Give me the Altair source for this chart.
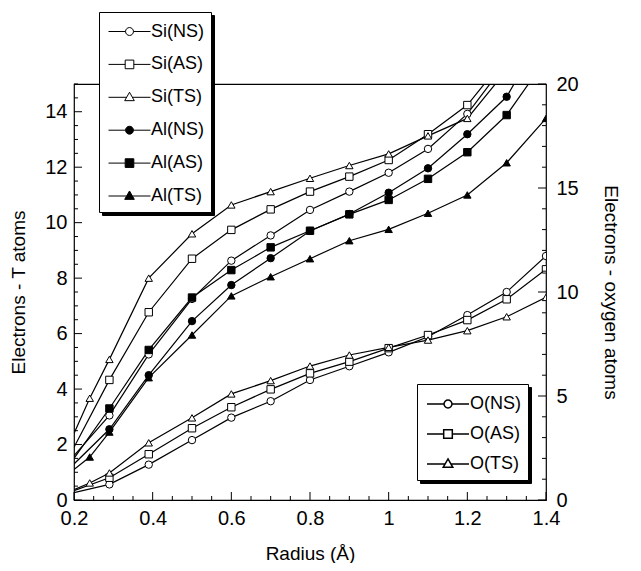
import altair as alt
import pandas as pd

# ---------------- data ----------------
r_std = [0.2, 0.29, 0.39, 0.5, 0.6, 0.7, 0.8, 0.9, 1.0, 1.1, 1.2, 1.3, 1.4]
r_ts = [0.2, 0.24, 0.29, 0.39, 0.5, 0.6, 0.7, 0.8, 0.9, 1.0, 1.1, 1.2, 1.3, 1.4]

# T atoms (left axis)
si_ns = [1.6, 3.05, 5.25, 7.25, 8.63, 9.54, 10.46, 11.12, 11.8, 12.66, 13.92, 15.8, 18.0]
si_as = [1.9, 4.33, 6.77, 8.7, 9.74, 10.48, 11.12, 11.66, 12.26, 13.19, 14.24, 16.0, 18.0]
si_ts = [2.4, 3.67, 5.07, 8.0, 9.6, 10.64, 11.12, 11.6, 12.06, 12.48, 13.13, 13.76, 15.5, 17.5]
al_ns = [1.3, 2.55, 4.5, 6.45, 7.75, 8.72, 9.7, 10.31, 11.08, 11.96, 13.19, 14.54, 17.0]
al_as = [1.5, 3.3, 5.41, 7.3, 8.29, 9.11, 9.71, 10.3, 10.82, 11.58, 12.54, 13.88, 15.9]
al_ts = [1.1, 1.55, 2.45, 4.41, 5.95, 7.36, 8.05, 8.7, 9.35, 9.76, 10.34, 11.0, 12.16, 13.76]

# oxygen atoms (right axis)
o_ns = [0.35, 0.75, 1.7, 2.88, 3.96, 4.75, 5.77, 6.43, 7.1, 7.85, 8.89, 10.0, 11.73]
o_as = [0.45, 1.07, 2.2, 3.45, 4.46, 5.32, 6.09, 6.65, 7.3, 7.93, 8.65, 9.65, 11.09]
o_ts = [0.5, 0.82, 1.3, 2.75, 3.95, 5.1, 5.74, 6.44, 6.97, 7.34, 7.69, 8.14, 8.81, 9.74]

t_names = ["Si(NS)", "Si(AS)", "Si(TS)", "Al(NS)", "Al(AS)", "Al(TS)"]
o_names = ["O(NS)", "O(AS)", "O(TS)"]

x_major = [0.2, 0.4, 0.6, 0.8, 1.0, 1.2, 1.4]
yl_major = [0, 2, 4, 6, 8, 10, 12, 14]
yr_major = [0, 5, 10, 15, 20]
x_minor = [round(0.2 + 0.05 * i, 2) for i in range(25) if i % 4]
yl_minor = [k * 0.5 for k in range(31) if k % 4]
yr_minor = [k for k in range(21) if k % 5]

# ---------------- table ----------------
rows = []
def add(name, grp, xs, ys):
    for x, y in zip(xs, ys):
        rows.append({"r": x, "v": y, "series": name, "grp": grp, "kind": "data"})

add("Si(NS)", "T", r_std, si_ns)
add("Si(AS)", "T", r_std, si_as)
add("Si(TS)", "T", r_ts, si_ts)
add("Al(NS)", "T", r_std, al_ns)
add("Al(AS)", "T", r_std, al_as)
add("Al(TS)", "T", r_ts, al_ts)
add("O(NS)", "O", r_std, o_ns)
add("O(AS)", "O", r_std, o_as)
add("O(TS)", "O", r_ts, o_ts)

# tick positions share the same table (field r for x ticks, v for y ticks)
def add_ticks(kind, grp, vals, field):
    for t in vals:
        rows.append({"r": t if field == "r" else 0.2, "v": t if field == "v" else 0,
                     "series": "", "grp": grp, "kind": kind})

add_ticks("xM", "T", x_major, "r")
add_ticks("xm", "T", x_minor, "r")
add_ticks("yM", "T", yl_major, "v")
add_ticks("ym", "T", yl_minor, "v")
add_ticks("yM", "O", yr_major, "v")
add_ticks("ym", "O", yr_minor, "v")
df = pd.DataFrame(rows)

W, H = 472, 416
FONT = "Liberation Sans"
xs = alt.Scale(domain=[0.2, 1.4], nice=False, zero=False)
yls = alt.Scale(domain=[0, 15], nice=False, zero=True)
yrs = alt.Scale(domain=[0, 20], nice=False, zero=True)

# legend symbols: line + marker, unit box
P_CIRC = "M-1.75,0H-0.33M0.33,0H1.75M-0.33,0A0.33,0.33,0,1,0,0.33,0A0.33,0.33,0,1,0,-0.33,0Z"
P_SQR = "M-1.75,0H-0.36M0.36,0H1.75M-0.36,-0.36H0.36V0.36H-0.36Z"
P_TRI = "M-1.75,0H-0.24M0.24,0H1.75M0,-0.42L0.4,0.28L-0.4,0.28Z"

base = alt.Chart(df)

def leg(x, y, rowpad, blank=None, loff=9):
    extra = {}
    if blank is not None:
        # drop-shadow copy: black box, no symbols, blank labels
        extra = {"symbolOpacity": 0, "labelExpr": "'" + " " * blank + "'"}
    return alt.Legend(orient="none", legendX=x, legendY=y, title=None,
                      labelFont=FONT, labelFontSize=18, labelColor="black",
                      symbolSize=576, rowPadding=rowpad,
                      padding=7, symbolOffset=11, labelOffset=loff,
                      strokeColor="black", fillColor="black" if blank else "white",
                      symbolLimit=0, **extra)

def sel(grp, kind):
    return base.transform_filter(f"datum.grp == '{grp}' && datum.kind == '{kind}'")

# inward tick marks, placed through the scales
def xticks(kind, size):
    return sel("T", kind).mark_rule(color="black", strokeWidth=1).encode(
        x=alt.X("r:Q", scale=xs, axis=None), y=alt.value(H), y2=alt.value(H - size))

def yticks(grp, kind, size, scale, side):
    x0 = 0 if side == "left" else W
    x1 = size if side == "left" else W - size
    return sel(grp, kind).mark_rule(color="black", strokeWidth=1).encode(
        y=alt.Y("v:Q", scale=scale, axis=None), x=alt.value(x0), x2=alt.value(x1))

def t_legend_layer(lg):
    return sel("T", "data").transform_filter("false").mark_point(filled=True, opacity=1).encode(
        shape=alt.Shape("series:N", scale=alt.Scale(domain=t_names,
                range=[P_CIRC, P_SQR, P_TRI] * 2), legend=lg),
        fill=alt.Fill("series:N", scale=alt.Scale(domain=t_names,
                range=["white"] * 3 + ["black"] * 3), legend=lg),
        stroke=alt.Stroke("series:N", scale=alt.Scale(domain=t_names,
                range=["black"] * 6), legend=lg),
        strokeWidth=alt.StrokeWidth("series:N", scale=alt.Scale(domain=t_names,
                range=[1, 1, 1, 2.6, 2.6, 2.6]), legend=lg),
    )

def o_legend_layer(lg):
    return sel("O", "data").transform_filter("false").mark_point(filled=True, opacity=1).encode(
        shape=alt.Shape("series:N", scale=alt.Scale(domain=o_names,
                range=[P_CIRC, P_SQR, P_TRI]), legend=lg),
        fill=alt.Fill("series:N", scale=alt.Scale(domain=o_names, range=["white"] * 3),
                legend=lg),
        stroke=alt.Stroke("series:N", scale=alt.Scale(domain=o_names, range=["black"] * 3),
                legend=lg),
    )

# ---------- T group ----------
tdat = sel("T", "data")
t_line = tdat.mark_line(color="black", clip=True).encode(
    x=alt.X("r:Q", scale=xs, axis=alt.Axis(orient="bottom", values=x_major, format="~g",
            ticks=False, domain=False, grid=False, labelFlush=False, labelFont=FONT,
            labelFontSize=20, labelColor="black", labelPadding=8, title="Radius (Å)",
            titleFont=FONT, titleFontSize=19, titleFontWeight="normal", titleColor="black",
            titlePadding=16)),
    y=alt.Y("v:Q", scale=yls, axis=alt.Axis(orient="left", values=yl_major, ticks=False,
            domain=False, grid=False, labelFlush=False, labelFont=FONT, labelFontSize=20,
            labelColor="black", labelPadding=7, title="Electrons - T atoms", titleFont=FONT,
            titleFontSize=19, titleFontWeight="normal", titleColor="black", titlePadding=16)),
    detail="series:N",
    strokeWidth=alt.StrokeWidth("series:N", scale=alt.Scale(domain=t_names,
            range=[1.2, 1.2, 1.2, 2.6, 2.6, 2.6]), legend=None),
)
t_pts = tdat.transform_filter("datum.r > 0.2").mark_point(filled=True, stroke="black",
        strokeWidth=1, size=55, opacity=1, clip=True).encode(
    x=alt.X("r:Q", scale=xs, axis=None),
    y=alt.Y("v:Q", scale=yls, axis=None),
    shape=alt.Shape("series:N", scale=alt.Scale(domain=t_names,
            range=["circle", "square", "triangle-up"] * 2), legend=None),
    fill=alt.Fill("series:N", scale=alt.Scale(domain=t_names,
            range=["white"] * 3 + ["black"] * 3), legend=None),
)
t_sh = t_legend_layer(leg(28, -69, 10.9, blank=11, loff=62))
t_leg = t_legend_layer(leg(25, -72, 10.9))

T = alt.layer(
    t_line, t_pts, t_sh, t_leg,
    yticks("T", "yM", 8, yls, "left"), yticks("T", "ym", 4, yls, "left"),
    xticks("xM", 8), xticks("xm", 4),
).resolve_scale(shape="independent", fill="independent", stroke="independent",
                strokeWidth="independent"
).resolve_axis(x="independent", y="independent")

# ---------- O group ----------
odat = sel("O", "data")
o_line = odat.mark_line(color="black", strokeWidth=1.2, clip=True).encode(
    x=alt.X("r:Q", scale=xs, axis=None),
    y=alt.Y("v:Q", scale=yrs, axis=alt.Axis(orient="right", values=yr_major, ticks=False,
            domain=False, grid=False, labelFlush=False, labelFont=FONT, labelFontSize=20,
            labelColor="black", labelPadding=10, title="Electrons - oxygen atoms",
            titleFont=FONT, titleFontSize=19, titleFontWeight="normal", titleColor="black",
            titlePadding=22)),
    detail="series:N",
)
o_pts = odat.transform_filter("datum.r > 0.2").mark_point(filled=True, stroke="black",
        strokeWidth=1, size=55, opacity=1, clip=True).encode(
    x=alt.X("r:Q", scale=xs, axis=None),
    y=alt.Y("v:Q", scale=yrs, axis=None),
    shape=alt.Shape("series:N", scale=alt.Scale(domain=o_names,
            range=["circle", "square", "triangle-up"]), legend=None),
    fill=alt.Fill("series:N", scale=alt.Scale(domain=o_names, range=["white"] * 3), legend=None),
)
o_sh = o_legend_layer(leg(346, 303, 8.0, blank=10, loff=60))
o_leg = o_legend_layer(leg(343, 300, 8.0))

O = alt.layer(
    o_line, o_pts, o_sh, o_leg,
    yticks("O", "yM", 8, yrs, "right"), yticks("O", "ym", 4, yrs, "right"),
).resolve_scale(shape="independent", fill="independent", stroke="independent"
).resolve_axis(x="independent", y="independent")

chart = alt.layer(T, O).resolve_scale(
    y="independent", shape="independent", fill="independent", stroke="independent",
    strokeWidth="independent"
).resolve_axis(x="independent", y="independent").properties(
    width=W, height=H,
    padding={"left": 66, "top": 76, "right": 87, "bottom": 63},
    autosize=alt.AutoSizeParams(type="none"),
    background="white",
).configure_view(stroke="black", strokeWidth=1.2)

chart.save("out.html", embed_options={"renderer": "svg", "actions": False})
